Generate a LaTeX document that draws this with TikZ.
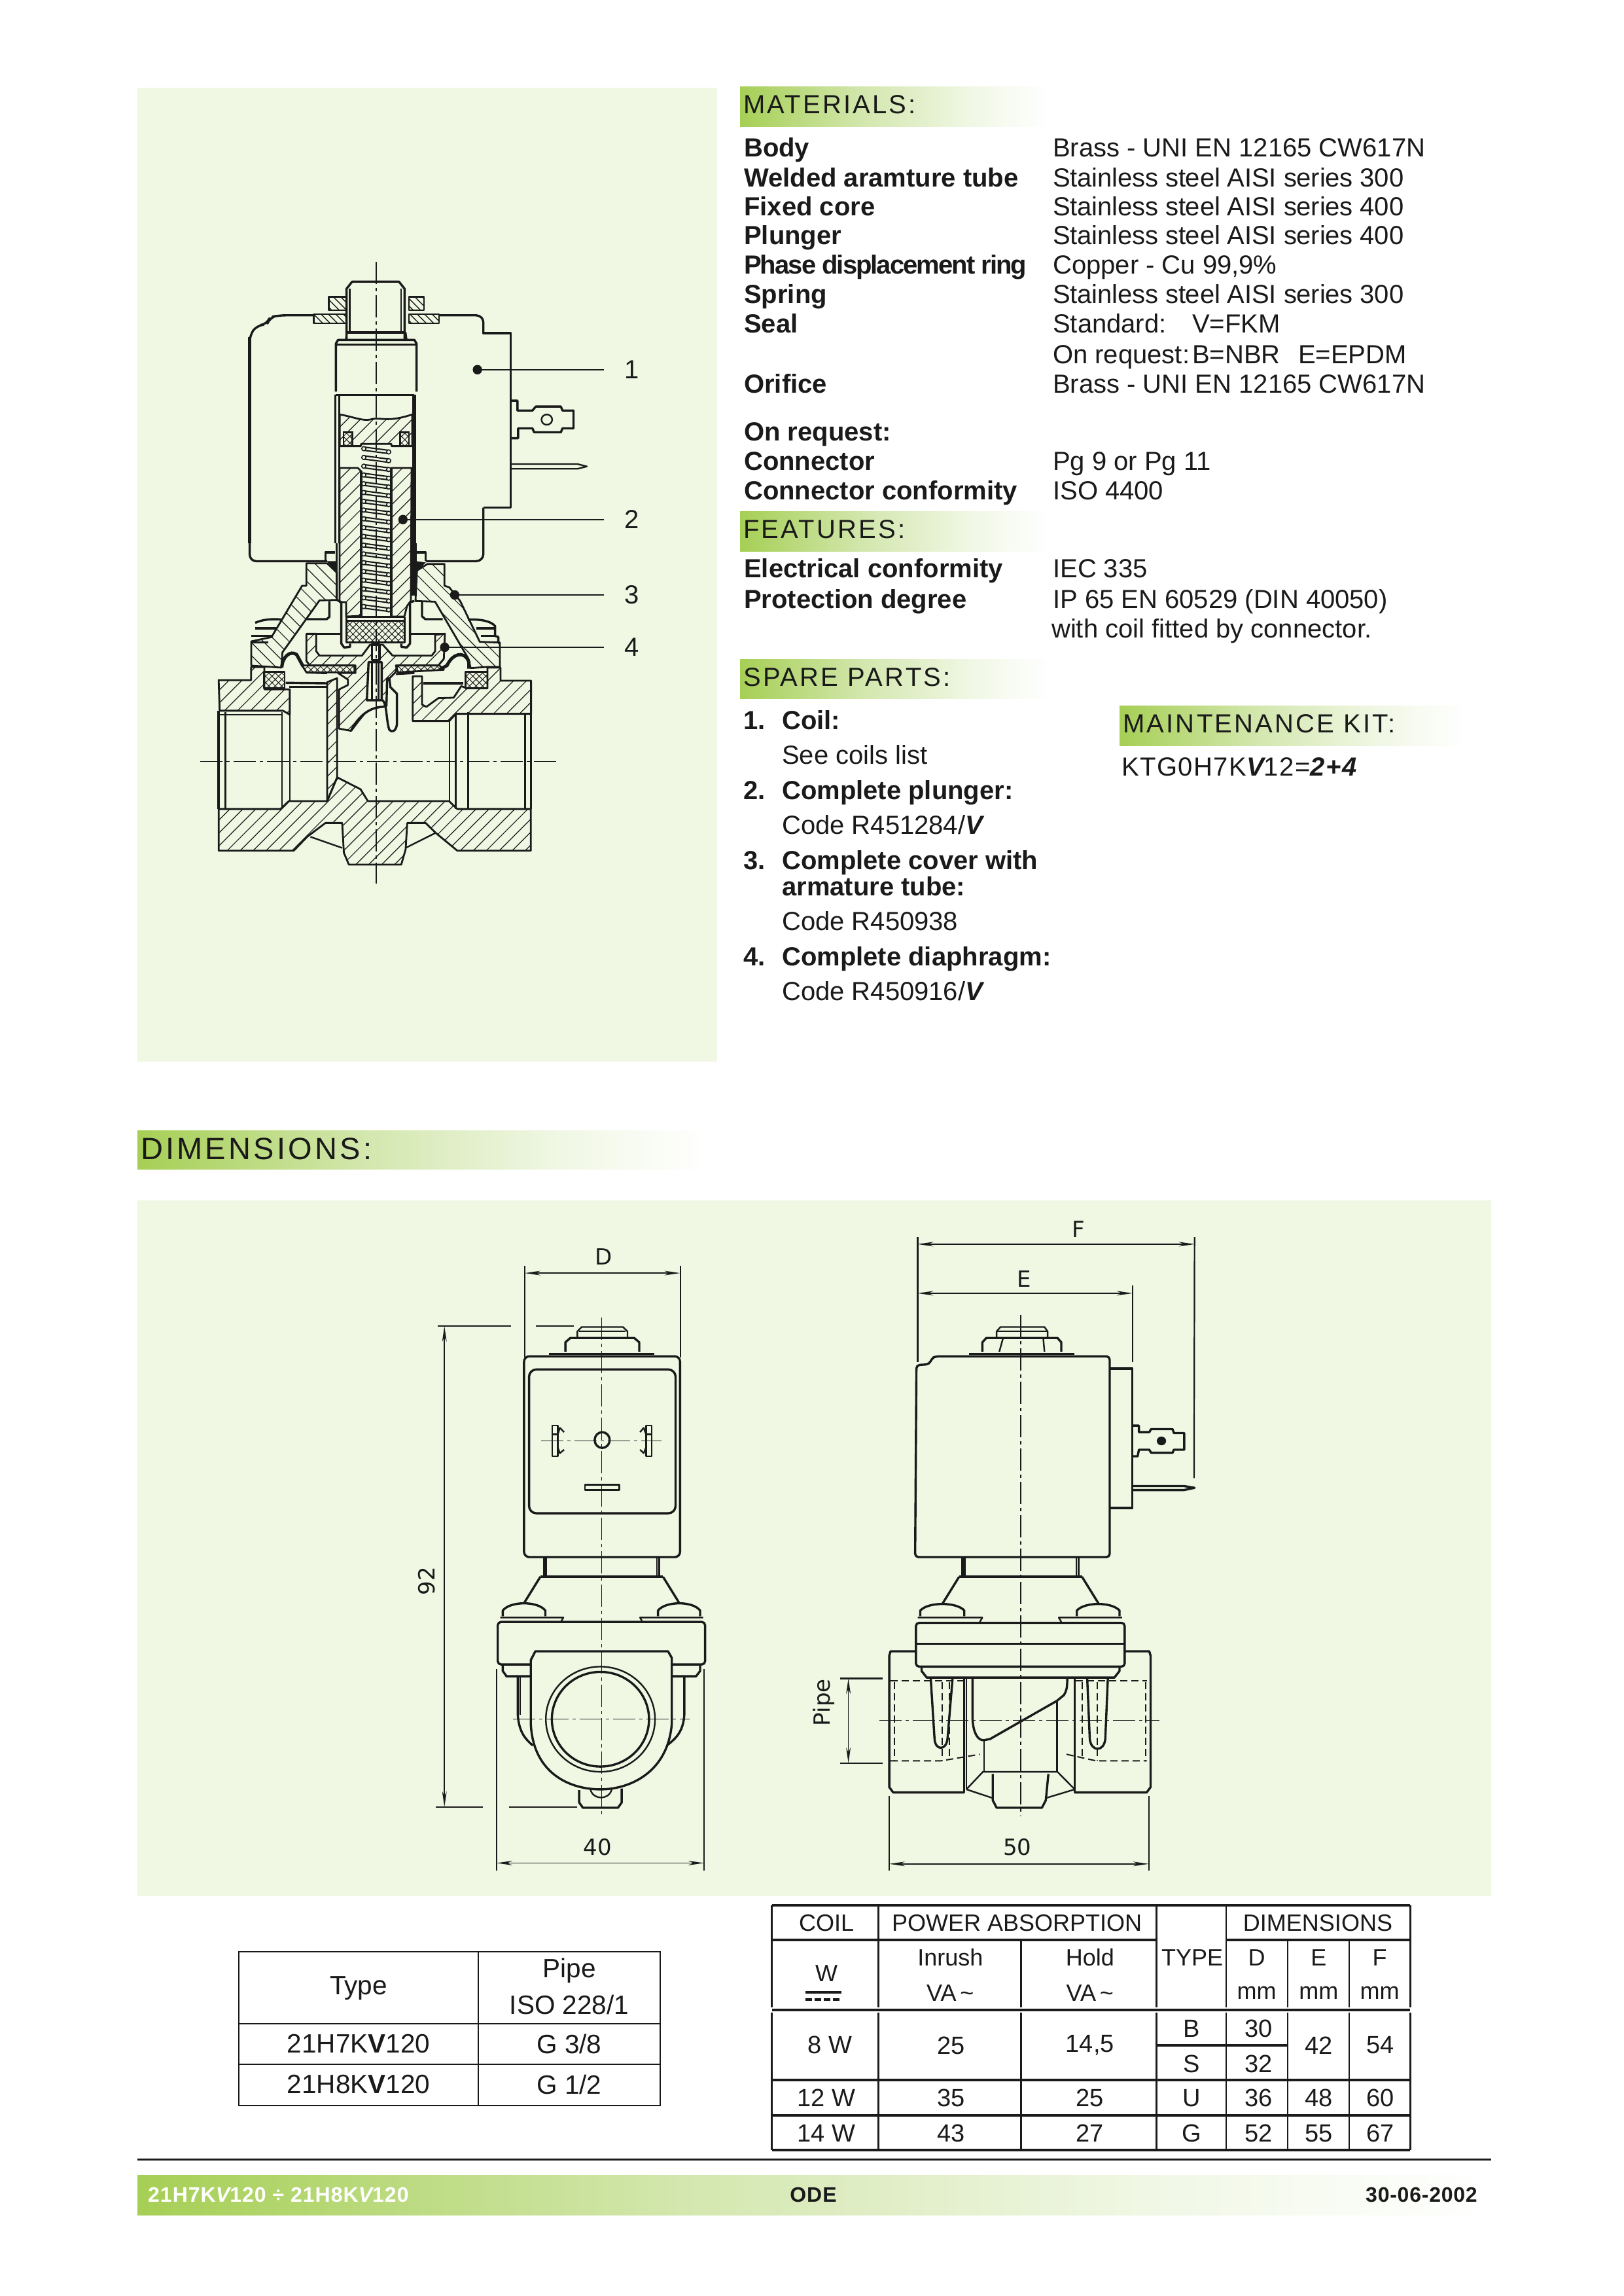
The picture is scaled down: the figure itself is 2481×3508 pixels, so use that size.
\documentclass[tikz,border=0pt]{standalone}
\usepackage{fontspec}
\setmainfont{Liberation Sans}
\newfontfamily\hdrfont[LetterSpace=8]{Liberation Sans}
\newfontfamily\dimhdrfont[LetterSpace=9]{Liberation Sans}
\newfontfamily\kitfont[LetterSpace=3.6]{Liberation Sans}
\newfontfamily\footfont[LetterSpace=3.2]{Liberation Sans}
\newfontfamily\datefont[LetterSpace=2.4]{Liberation Sans}
\newfontfamily\tightfont[LetterSpace=-4.9]{Liberation Sans}
\newfontfamily\steelfont[LetterSpace=-0.4]{Liberation Sans}
\newfontfamily\dimfont{DejaVu Sans}
\usetikzlibrary{patterns.meta,arrows.meta,calc}
\definecolor{panel}{HTML}{F0F8E4}
\definecolor{ink}{HTML}{1A1A1A}
\definecolor{gA}{HTML}{A6CF55}
\definecolor{gB}{HTML}{D3E7AE}
\definecolor{gC}{HTML}{F0F7E4}
\pgfdeclarehorizontalshading{barshade}{100bp}{color(0bp)=(gA);color(25bp)=(gA);color(45bp)=(gB);color(62bp)=(gC);color(75bp)=(white);color(100bp)=(white)}
\tikzset{
 x=1pt,y=-1pt,
 hdrbar/.style={shading=barshade,draw=none},
 hdrtxt/.style={anchor=base west,inner sep=0pt,font=\hdrfont\fontsize{40}{40}\selectfont,text=ink},
 lab/.style={anchor=base west,inner sep=0pt,font=\bfseries\fontsize{40}{45}\selectfont,text=ink},
 val/.style={anchor=base west,inner sep=0pt,font=\fontsize{40}{45}\selectfont,text=ink},
 steel/.style={anchor=base west,inner sep=0pt,font=\steelfont\fontsize{40}{45}\selectfont,text=ink},
 cell/.style={inner sep=0pt,font=\fontsize{38}{45}\selectfont,text=ink},
 bigcell/.style={inner sep=0pt,font=\fontsize{40.5}{45}\selectfont,text=ink},
 hcell/.style={inner sep=0pt,font=\fontsize{36}{45}\selectfont,text=ink},
 foot/.style={anchor=base west,inner sep=0pt,font=\footfont\bfseries\fontsize{32}{32}\selectfont,text=ink},
 rule/.style={draw=ink,line width=2.6pt},
 thickrule/.style={draw=ink,line width=4pt},
 ln/.style={draw=ink,line width=2.4pt,line join=round},
 thinln/.style={draw=ink,line width=1.5pt},
 thick2/.style={draw=ink,line width=3.4pt,line join=round},
 cline/.style={draw=ink,line width=1.3pt,dash pattern=on 34pt off 6pt on 5pt off 6pt},
 dashln/.style={draw=ink,line width=2pt,dash pattern=on 11pt off 6pt},
 hatchA/.style={draw=ink,line width=2.8pt,line join=round,pattern={Lines[angle=45,distance=14pt,line width=1.2pt]},pattern color=ink},
 hatchB/.style={draw=ink,line width=2.8pt,line join=round,pattern={Lines[angle=-45,distance=14pt,line width=1.2pt]},pattern color=ink},
 hatchC/.style={draw=ink,line width=2.8pt,line join=round,pattern={Lines[angle=-45,distance=8pt,line width=1.4pt]},pattern color=ink},
 mesh/.style={draw=ink,line width=2.8pt,line join=round,pattern={Hatch[angle=45,distance=7pt,line width=1pt]},pattern color=ink},
 dimln/.style={draw=ink,line width=1.6pt,{Stealth[length=24pt,width=7pt]}-{Stealth[length=24pt,width=7pt]}},
 extln/.style={draw=ink,line width=2.2pt},
 dimtxt/.style={inner sep=0pt,font=\dimfont\fontsize{34}{34}\selectfont,text=ink},
 numtxt/.style={inner sep=0pt,inner xsep=32pt,font=\fontsize{40}{40}\selectfont,text=ink},
}
\begin{document}
\begin{tikzpicture}
\useasboundingbox (0,0) rectangle (2481,3508);
\fill[white] (0,0) rectangle (2481,3508);
% panels
\fill[panel] (210,134) rectangle (1096,1622);
\fill[panel] (210,1834) rectangle (2279,2897);
% header bars
\shade[hdrbar] (1131,133) rectangle (1604,194);
\shade[hdrbar] (1131,781) rectangle (1604,842);
\shade[hdrbar] (1131,1007) rectangle (1604,1067);
\shade[hdrbar] (1711,1078) rectangle (2240,1139);
\shade[hdrbar] (210,1727) rectangle (1080,1786);
\node[hdrtxt] (hmat) at (1136,174) {MATERIALS:};
\node[hdrtxt] (hfea) at (1136,822) {FEATURES:};
\node[hdrtxt] (hspa) at (1136,1048) {SPARE PARTS:};
\node[hdrtxt] (hkit) at (1716,1119) {MAINTENANCE KIT:};
\node[hdrtxt,font=\dimhdrfont\fontsize{47}{47}\selectfont] (hdim) at (215,1771) {DIMENSIONS:};
% materials
\node[lab] (a1) at (1137,240) {Body};
\node[lab] (a2) at (1137,285) {Welded aramture tube};
\node[lab] (a3) at (1137,329) {Fixed core};
\node[lab] (a4) at (1137,373) {Plunger};
\node[lab,font=\tightfont\bfseries\fontsize{40}{45}\selectfont] (a5) at (1137,418) {Phase displacement ring};
\node[lab] (a6) at (1137,463) {Spring};
\node[lab] (a7) at (1137,508) {Seal};
\node[lab] (a8) at (1137,600) {Orifice};
\node[lab] (a9) at (1137,673) {On request:};
\node[lab] (a10) at (1137,718) {Connector};
\node[lab] (a11) at (1137,763) {Connector conformity};
\node[val] (b1) at (1609,240) {Brass - UNI EN 12165 CW617N};
\node[steel] (b2) at (1609,285) {Stainless steel AISI series 300};
\node[steel] (b3) at (1609,329) {Stainless steel AISI series 400};
\node[steel] (b4) at (1609,373) {Stainless steel AISI series 400};
\node[val] (b5) at (1609,418) {Copper - Cu 99,9\%};
\node[steel] (b6) at (1609,463) {Stainless steel AISI series 300};
\node[val] (b7) at (1609,508) {Standard:};
\node[val] (b7b) at (1822,508) {V=FKM};
\node[val] (b8) at (1609,555) {On request:};
\node[val] (b8b) at (1822,555) {B=NBR};
\node[val] (b8c) at (1984,555) {E=EPDM};
\node[val] (b9) at (1609,600) {Brass - UNI EN 12165 CW617N};
\node[val] (b10) at (1609,718) {Pg 9 or Pg 11};
\node[val] (b11) at (1609,763) {ISO 4400};
% features
\node[lab] (c1) at (1137,882) {Electrical conformity};
\node[lab] (c2) at (1137,929) {Protection degree};
\node[val] (d1) at (1609,882) {IEC 335};
\node[val] (d2) at (1609,929) {IP 65 EN 60529 (DIN 40050)};
\node[val] (d3) at (1607,974) {with coil fitted by connector.};
% spare parts
\node[lab] (s1) at (1136,1114) {1.};
\node[lab] (s1t) at (1195,1114) {Coil:};
\node[val] (s1c) at (1195,1167) {See coils list};
\node[lab] (s2) at (1136,1221) {2.};
\node[lab] (s2t) at (1195,1221) {Complete plunger:};
\node[val] (s2c) at (1195,1274) {Code R451284/{\bfseries\itshape V}};
\node[lab] (s3) at (1136,1328) {3.};
\node[lab] (s3t) at (1195,1328) {Complete cover with};
\node[lab] (s3u) at (1195,1368) {armature tube:};
\node[val] (s3c) at (1195,1421) {Code R450938};
\node[lab] (s4) at (1136,1475) {4.};
\node[lab] (s4t) at (1195,1475) {Complete diaphragm:};
\node[val] (s4c) at (1195,1528) {Code R450916/{\bfseries\itshape V}};
\node[val,font=\kitfont\fontsize{40}{45}\selectfont] (kit) at (1714,1185) {KTG0H7K{\bfseries\itshape V}12={\bfseries\itshape 2+4}};
% ===== section view: outer parts
\begin{scope}[shift={(250,400)},xscale=0.5102,yscale=0.6059]
 \draw[hatchC] (495,88) rectangle (548,122);
 \draw[hatchC] (735,88) rectangle (780,122);
 \draw[hatchC] (450,132) rectangle (548,155);
 \draw[hatchC] (735,132) rectangle (825,155);
 \draw[thick2] (548,195) -- (548,68) -- (565,50) -- (705,50) -- (722,68) -- (722,195);
 \draw[ln] (558,68) -- (558,180);
 \draw[ln] (712,68) -- (712,180);
 \draw[ln] (548,180) -- (722,180);
 \draw[thick2,rounded corners=10pt] (450,135) -- (345,135) -- (318,140) -- (310,158) -- (280,160) -- (258,185) -- (258,755) -- (490,755);
 \draw[thick2,rounded corners=11pt] (825,135) -- (958,135) -- (958,180);
 \draw[thick2] (958,170) -- (958,180) -- (1040,180) -- (1040,620) -- (958,620);
 \draw[thick2,rounded corners=11pt] (958,620) -- (958,755) -- (785,755);
 \draw[draw=ink,line width=4.5pt] (258,190) -- (258,710);
 \draw[hatchA] (165,1055) -- (262,1055) -- (262,1022) -- (302,1022) -- (302,1078) -- (378,1078) -- (378,1142) -- (358,1132) -- (168,1132) -- cycle;
 \draw[hatchA] (165,1380) -- (350,1380) -- (375,1360) -- (490,1360) -- (520,1300) -- (590,1330) -- (612,1360) -- (855,1360) -- (880,1380) -- (1100,1380) -- (1100,1485) -- (880,1485) -- (815,1440) -- (785,1415) -- (730,1415) -- (725,1482) -- (712,1520) -- (555,1520) -- (540,1490) -- (535,1415) -- (485,1415) -- (430,1450) -- (390,1485) -- (165,1485) -- cycle;
 \draw[ln] (440,1450) -- (535,1478);
 \draw[ln] (815,1440) -- (725,1478);
 \draw[thick2] (165,1132) -- (165,1380);
 \draw[thick2] (1100,1135) -- (1100,1380);
 \draw[ln] (185,1135) -- (185,1378);
 \draw[ln] (355,1135) -- (355,1380);
 \draw[ln] (378,1142) -- (378,1360);
 \draw[ln] (168,1142) -- (355,1142);
 \draw[ln] (875,1140) -- (875,1380);
 \draw[ln] (857,1155) -- (857,1362);
 \draw[ln] (912,1135) -- (912,1380);
 \draw[ln] (1083,1140) -- (1083,1380);
 \draw[hatchA] (490,1060) -- (520,1050) -- (520,1300) -- (490,1360) -- cycle;
 \draw[thick2] (1040,350) -- (1060,350) -- (1060,375) -- (1105,375) -- (1115,365) -- (1190,365) -- (1195,375) -- (1228,375) -- (1228,420) -- (1195,420) -- (1190,430) -- (1110,430) -- (1105,420) -- (1062,420) -- (1062,445) -- (1040,445);
 \draw[ln] (1148,398) circle[x radius=16,y radius=13];
 \draw[ln] (1040,510) -- (1240,510) -- (1268,516) -- (1240,522) -- (1040,522);
\end{scope}
% ===== armature tube and fixed core
\begin{scope}[shift={(470,470)},xscale=0.3333,yscale=0.3333]
 \draw[ln] (180,112) -- (450,112);
 \draw[ln] (180,112) -- (175,148);
 \draw[ln] (450,112) -- (455,148);
 \draw[thick2] (130,385) -- (130,165) -- (140,148) -- (490,148) -- (500,165) -- (500,385);
 \draw[thick2] (130,170) -- (500,170);
 \draw[thick2] (130,400) -- (490,400);
 \draw[thick2] (128,400) -- (128,1080);
 \draw[ln] (146,400) -- (146,1080);
 \fill[ink] (480,400) rectangle (498,1080);
 \draw[hatchA] (148,490) .. controls (210,500) and (260,525) .. (300,510) .. controls (350,505) and (370,525) .. (480,490) -- (480,635) -- (385,635) -- (385,625) -- (245,625) -- (245,635) -- (148,635) -- cycle;
 \draw[draw=ink,line width=2.8pt,fill=panel] (165,572) rectangle (205,635);
 \draw[draw=ink,line width=2.8pt,fill=panel] (425,572) rectangle (465,635);
 \draw[mesh] (165,572) rectangle (205,635);
 \draw[mesh] (425,572) rectangle (465,635);
\end{scope}
% plunger, one piece on each side of the spring
\draw[hatchA] (519,715) -- (547,715) -- (552,720) -- (552,941) -- (529,942) -- (529,920) -- (519,920) -- cycle;
\draw[hatchA] (598,715) -- (629,715) -- (628,918) -- (622,926) -- (618,942) -- (598,942) -- cycle;
\draw[draw=ink,line width=3.4pt] (552,720) -- (552,941);
\draw[draw=ink,line width=3.4pt] (598,715) -- (598,941);
% spring
\foreach \yy in {683,696.4,...,933}{
 \draw[draw=ink,line width=2.1pt] (556,\yy) -- (594,\yy+5);
 \draw[draw=ink,line width=2.1pt] (556,\yy+5) -- (594,\yy+10);
 \draw[draw=ink,line width=1.6pt,fill=panel] (556,\yy+2.5) circle[radius=3.2];
 \draw[draw=ink,line width=1.6pt,fill=panel] (594,\yy+7.5) circle[radius=3.2];
}
% ===== cover, diaphragm, poppet, right body block
\begin{scope}[shift={(400,820)},xscale=0.3333,yscale=0.3333]
 \draw[draw=ink,line width=3pt] (345,30) -- (345,290);
 \fill[ink] (688,30) rectangle (710,270);
 \draw[thick2] (292,110) -- (292,72) -- (335,72);
 \draw[thick2] (712,72) -- (752,72) -- (752,110);
 \fill[ink] (298,112) -- (345,112) -- (345,165) -- cycle;
 \fill[ink] (708,112) -- (752,118) -- (708,165) -- cycle;
 \draw[hatchB] (205,122) -- (300,122) -- (345,165) -- (345,290) -- (265,292) -- (95,530) -- (90,600) -- (-48,591) -- (-48,480) -- (45,460) -- (185,225) -- (205,225) -- cycle;
 \draw[hatchB] (712,155) -- (760,125) -- (838,125) -- (838,225) -- (860,232) -- (910,295) -- (1000,482) -- (1092,485) -- (1092,597) -- (1035,597) -- (958,602) -- (948,560) -- (795,298) -- (705,295) -- cycle;
 \draw[thick2] (-30,395) .. controls (0,380) and (50,375) .. (90,380);
 \draw[thick2] (-30,420) -- (65,420);
 \draw[thick2] (-48,455) -- (50,455);
 \draw[thick2] (-48,485) -- (30,485);
 \draw[thick2] (945,380) .. controls (1000,378) and (1050,385) .. (1070,410) -- (1070,455) -- (1085,460) -- (1085,485);
 \draw[thick2] (985,420) -- (1070,420);
 \draw[thick2] (1005,455) -- (1075,455);
 \draw[thick2] (310,295) -- (310,368) -- (298,378) -- (205,378);
 \draw[thick2] (735,300) -- (735,365) -- (750,378) -- (830,378);
 \draw[thick2] (345,290) -- (365,300) -- (365,490) -- (378,508) -- (405,505) -- (405,490);
 \draw[thick2] (700,295) -- (680,300) -- (680,490) -- (665,508) -- (640,505) -- (640,490);
 \draw[thick2] (388,368) -- (655,368);
 \draw[thick2] (388,368) -- (388,470);
 \draw[thick2] (655,368) -- (655,470);
 \draw[thick2] (205,445) -- (365,445);
 \draw[thick2] (680,445) -- (840,445);
 \draw[hatchA] (205,445) -- (250,445) -- (250,525) -- (265,545) -- (460,545) -- (497,495) -- (555,495) -- (600,545) -- (780,545) -- (795,525) -- (795,450) -- (840,445) -- (835,560) -- (810,590) -- (620,590) -- (615,620) -- (585,650) -- (580,750) -- (555,780) -- (520,785) -- (480,800) -- (440,850) -- (410,890) -- (355,880) -- (355,700) -- (395,680) -- (395,655) -- (350,625) -- (430,625) -- (430,590) -- (220,590) -- (205,570) -- cycle;
 \draw[mesh] (388,385) rectangle (655,485);
 \draw[thick2,fill=panel] (505,495) -- (540,495) -- (540,565) -- (505,565) -- cycle;
 \draw[thick2,fill=panel] (490,575) -- (550,575) -- (550,750) -- (482,750) -- cycle;
 \draw[ln] (505,575) -- (505,750);
 \draw[ln] (535,575) -- (535,750);
 \draw[thick2,fill=panel] (480,750) -- (555,750) .. controls (575,770) and (570,840) .. (585,885) .. controls (595,898) and (615,895) .. (620,860) -- (620,720) -- (590,690) -- (585,650) -- (575,650) -- (572,775) -- (555,780) .. controls (530,780) and (460,790) .. (410,888);
 \draw[mesh] (185,590) -- (425,590) -- (425,622) -- (205,622) -- cycle;
 \draw[mesh] (615,590) -- (815,590) -- (835,610) -- (625,622) -- cycle;
 \draw[draw=ink,line width=5pt] (92,600) .. controls (95,550) and (130,520) .. (160,540) -- (190,595);
 \draw[draw=ink,line width=5pt] (815,610) -- (850,590) .. controls (875,535) and (930,520) .. (950,575) -- (950,605);
 \draw[draw=ink,line width=3pt] (615,630) -- (700,625);
 \draw[thick2] (205,622) -- (300,625);
 \draw[mesh] (10,620) rectangle (105,695);
 \draw[mesh] (935,620) rectangle (1035,695);
 \draw[thick2] (110,670) -- (300,672);
 \draw[thick2] (125,688) -- (300,688);
 \draw[thick2] (740,672) -- (925,672);
 \draw[hatchA] (692,640) -- (692,845) -- (860,845) -- (890,812) -- (1235,812) -- (1235,660) -- (1095,660) -- (1095,600) -- (1035,600) -- (1035,695) -- (940,695) -- (915,685) -- (880,738) -- (810,740) -- (755,780) -- (735,770) -- (735,640) -- cycle;
 \draw[thick2] (1235,812) -- (1235,840);
\end{scope}
% ===== section view: centre lines, leaders
\begin{scope}[shift={(250,400)},xscale=0.5102,yscale=0.6059]
 \draw[cline] (637,0) -- (637,1568);
 \draw[cline] (110,1260) -- (1180,1260);
 \coordinate (p1) at (940,272);
 \coordinate (p2) at (717,650);
 \coordinate (p3) at (872,840);
 \coordinate (p4) at (842,972);
 \node[numtxt] (n1) at (1403,272) {1};
 \node[numtxt] (n2) at (1403,650) {2};
 \node[numtxt] (n3) at (1403,840) {3};
 \node[numtxt] (n4) at (1403,972) {4};
 \fill[ink] (p1) circle[x radius=14,y radius=12];
 \fill[ink] (p2) circle[x radius=14,y radius=12];
 \fill[ink] (p3) circle[x radius=14,y radius=12];
 \fill[ink] (p4) circle[x radius=14,y radius=12];
 \draw[thinln,line width=2pt] (p1) -- (p1 -| n1.west);
 \draw[thinln,line width=2pt] (p2) -- (p2 -| n2.west);
 \draw[thinln,line width=2pt] (p3) -- (p3 -| n3.west);
 \draw[thinln,line width=2pt] (p4) -- (p4 -| n4.west);
\end{scope}
% ===== front view
\begin{scope}[shift={(600,1850)},xscale=0.3827,yscale=0.6696]
 \coordinate (fd1) at (528,142); \coordinate (fd2) at (1148,142);
 \draw[extln] (528,125) -- (528,335);
 \draw[extln] (1149,125) -- (1149,335);
 \draw[dimln] (fd1) -- (fd2);
 \node[dimtxt] (tD) at (842,105) {D};
 \coordinate (f92a) at (207,263); \coordinate (f92b) at (207,1360);
 \draw[extln] (180,263) -- (472,263);
 \draw[extln] (572,263) -- (725,263);
 \draw[extln] (172,1360) -- (360,1360);
 \draw[extln] (465,1360) -- (738,1360);
 \draw[dimln] (f92a) -- (f92b);
 \node[dimtxt,rotate=90] (t92) at (135,845) {92};
 \coordinate (f40a) at (416,1488); \coordinate (f40b) at (1243,1488);
 \draw[extln] (416,1045) -- (416,1505);
 \draw[extln] (1243,1045) -- (1243,1505);
 \draw[dimln] (f40a) -- (f40b);
 \node[dimtxt] (t40) at (818,1452) {40};
 \draw[ln] (738,290) -- (738,275) -- (755,265) -- (920,265) -- (938,275) -- (938,290);
 \draw[ln] (745,275) -- (930,275);
 \draw[thick2] (690,322) -- (690,300) -- (710,290) -- (965,290) -- (985,300) -- (985,322);
 \draw[thick2] (625,326) -- (1045,326);
 \draw[thick2,rounded corners=8pt] (525,332) rectangle (1148,790);
 \draw[thick2,rounded corners=11pt] (545,362) rectangle (1130,690);
 \draw[ln] (638,490) rectangle (660,560);
 \draw[ln] (638,510) -- (660,510);
 \draw[ln] (660,510) -- (668,495) -- (685,505);
 \draw[ln] (660,540) -- (668,553) -- (685,545);
 \draw[ln] (1012,490) rectangle (1035,560);
 \draw[ln] (1012,510) -- (1035,510);
 \draw[ln] (1012,510) -- (1003,495) -- (988,505);
 \draw[ln] (1012,540) -- (1003,553) -- (988,545);
 \draw[thick2] (837,523) ellipse[x radius=30,y radius=18];
 \draw[ln] (768,625) rectangle (905,637);
 \draw[thick2] (605,790) -- (605,833);
 \draw[ln] (613,790) -- (613,833);
 \draw[thick2] (1065,790) -- (1065,833);
 \draw[ln] (1056,790) -- (1056,833);
 \draw[thick2] (590,835) -- (1080,835);
 \draw[thick2] (590,835) -- (525,895);
 \draw[thick2] (1080,835) -- (1145,895);
 \draw[thick2] (440,925) -- (440,912) .. controls (470,890) and (580,890) .. (610,912) -- (610,925);
 \draw[thick2] (1060,925) -- (1060,912) .. controls (1090,890) and (1200,890) .. (1228,912) -- (1228,925);
 \draw[ln] (430,928) -- (682,928) -- (672,938);
 \draw[ln] (1240,928) -- (988,928) -- (998,938);
 \draw[thick2,rounded corners=5pt] (420,938) rectangle (1248,1035);
 \draw[thick2] (440,1035) -- (440,1050) -- (455,1062) -- (550,1062);
 \draw[thick2] (1228,1035) -- (1228,1050) -- (1212,1062) -- (1115,1062);
 \draw[thick2] (500,1062) -- (500,1150) .. controls (505,1190) and (530,1205) .. (560,1220);
 \draw[ln] (510,1062) -- (510,1150);
 \draw[thick2] (1165,1062) -- (1165,1150) .. controls (1160,1190) and (1130,1205) .. (1090,1222);
 \draw[thick2,fill=panel] (552,1035) -- (552,1025) -- (570,1005) -- (1100,1005) -- (1115,1020) -- (1115,1170) .. controls (1100,1280) and (950,1320) .. (830,1320) .. controls (700,1320) and (560,1280) .. (552,1170) -- cycle;
 \draw[ln] (830,1160) ellipse[x radius=218,y radius=120];
 \draw[thick2] (830,1160) ellipse[x radius=194,y radius=108];
 \draw[thick2] (745,1322) -- (745,1350) -- (760,1362) -- (900,1362) -- (915,1350) -- (915,1318);
 \draw[ln] (790,1320) .. controls (800,1345) and (865,1345) .. (875,1320);
 \draw[cline] (835,243) -- (835,1380);
 \draw[cline] (592,525) -- (1075,525);
 \draw[cline] (480,1160) -- (1185,1160);
\end{scope}
% ===== side view
\begin{scope}[shift={(1280,1850)},xscale=0.3954,yscale=0.6696]
 \coordinate (sf1) at (310,76); \coordinate (sf2) at (1380,76);
 \draw[extln] (310,60) -- (310,345);
 \draw[extln] (1380,60) -- (1378,610);
 \draw[dimln] (sf1) -- (sf2);
 \node[dimtxt] (tF) at (932,42) {F};
 \coordinate (se1) at (310,188); \coordinate (se2) at (1140,188);
 \draw[extln] (1140,170) -- (1140,345);
 \draw[dimln] (se1) -- (se2);
 \node[dimtxt] (tE) at (722,155) {E};
 \draw[ln] (615,290) -- (615,275) -- (630,265) -- (800,265) -- (812,275) -- (812,290);
 \draw[ln] (615,275) -- (812,275);
 \draw[thick2] (560,322) -- (560,300) -- (575,290) -- (850,290) -- (865,300) -- (865,322);
 \draw[ln] (640,290) -- (625,322);
 \draw[ln] (795,290) -- (800,322);
 \draw[thick2] (508,326) -- (915,326);
 \draw[thick2,rounded corners=5pt] (380,332) -- (1052,332) -- (1052,790) -- (300,790) -- (305,352) -- (355,350) -- (365,336) -- cycle;
 \draw[thick2] (1052,360) -- (1140,360) -- (1140,678) -- (1052,678);
 \draw[thick2] (1140,490) -- (1165,490) -- (1165,505) -- (1205,505) -- (1212,498) -- (1295,498) -- (1300,507) -- (1340,507) -- (1340,545) -- (1300,545) -- (1295,552) -- (1212,552) -- (1205,545) -- (1165,545) -- (1160,560) -- (1140,560);
 \fill[ink] (1252,525) ellipse[x radius=18,y radius=10];
 \draw[thick2] (1140,628) -- (1340,628) -- (1380,632) -- (1340,637) -- (1140,637);
 \draw[thick2] (483,790) -- (483,833);
 \draw[ln] (492,790) -- (492,833);
 \draw[thick2] (932,790) -- (932,833);
 \draw[ln] (923,790) -- (923,833);
 \draw[thick2] (470,835) -- (945,835);
 \draw[thick2] (470,835) -- (405,897);
 \draw[thick2] (945,835) -- (1010,897);
 \draw[thick2] (320,925) -- (320,912) .. controls (350,892) and (460,892) .. (490,912) -- (490,925);
 \draw[thick2] (925,925) -- (925,912) .. controls (955,892) and (1060,892) .. (1090,912) -- (1090,925);
 \draw[ln] (310,928) -- (560,928) -- (550,938);
 \draw[ln] (1100,928) -- (855,928) -- (865,938);
 \draw[thick2,rounded corners=5pt] (303,940) rectangle (1110,1040);
 \draw[thick2] (303,988) -- (1110,988);
 \draw[thick2] (325,1040) -- (325,1050) -- (345,1065) -- (1070,1065) -- (1090,1050) -- (1090,1040);
 \draw[thick2] (300,1005) -- (205,1005) -- (200,1015) -- (200,1315) -- (215,1327) -- (490,1327);
 \draw[thick2] (1110,1005) -- (1205,1005) -- (1210,1015) -- (1210,1315) -- (1195,1327) -- (915,1327);
 \draw[thick2] (490,1065) -- (490,1327);
 \draw[ln] (498,1065) -- (498,1320);
 \draw[thick2] (917,1065) -- (917,1327);
 \draw[ln] (498,1320) -- (562,1280) -- (850,1280) -- (917,1320);
 \draw[thick2] (600,1285) -- (600,1345) -- (615,1362) -- (790,1362) -- (805,1345) -- (815,1285);
 \draw[ln] (498,1320) -- (600,1340);
 \draw[ln] (805,1340) -- (917,1320);
 \draw[ln] (567,1208) -- (567,1280);
 \draw[ln] (848,1120) -- (848,1280);
 \draw[thick2] (522,1065) -- (522,1160) .. controls (525,1195) and (545,1208) .. (565,1208) -- (590,1205) -- (848,1118) -- (875,1105) .. controls (885,1095) and (888,1090) .. (888,1065);
 \draw[thick2] (360,1065) -- (375,1205) .. controls (378,1232) and (420,1232) .. (425,1205) -- (445,1065);
 \draw[thick2] (965,1065) -- (975,1205) .. controls (980,1235) and (1030,1235) .. (1035,1205) -- (1045,1065);
 \draw[dashln] (205,1072) -- (490,1072);
 \draw[dashln] (920,1072) -- (1195,1072);
 \draw[dashln] (205,1255) -- (400,1255) -- (550,1240);
 \draw[dashln] (885,1240) -- (1000,1255) -- (1195,1255);
 \draw[dashln] (220,1075) -- (220,1255);
 \draw[dashln] (1190,1075) -- (1190,1255);
 \draw[dashln] (405,1075) -- (405,1255);
 \draw[dashln] (432,1075) -- (432,1250);
 \draw[dashln] (1005,1075) -- (1005,1255);
 \draw[dashln] (945,1075) -- (945,1250);
 \draw[cline] (708,237) -- (708,1380);
 \draw[cline] (163,1163) -- (1245,1163);
 \coordinate (sp1) at (42,1067); \coordinate (sp2) at (42,1260);
 \draw[extln] (10,1067) -- (175,1067);
 \draw[extln] (10,1260) -- (175,1260);
 \draw[dimln] (sp1) -- (sp2);
 \node[dimtxt,rotate=90] (tPipe) at (-52,1122) {Pipe};
 \coordinate (s50a) at (200,1490); \coordinate (s50b) at (1203,1490);
 \draw[extln] (200,1335) -- (200,1505);
 \draw[extln] (1203,1335) -- (1203,1505);
 \draw[dimln] (s50a) -- (s50b);
 \node[dimtxt] (t50) at (695,1452) {50};
\end{scope}
% ===== left table
\draw[rule] (365,2982) rectangle (1009,3217);
\draw[rule] (731,2982) -- (731,3217);
\draw[rule] (365,3092) -- (1009,3092);
\draw[rule] (365,3154) -- (1009,3154);
\node[bigcell] (lt1) at (548,3038) {Type};
\node[bigcell] (lt2) at (870,3011) {Pipe};
\node[bigcell] (lt3) at (870,3063) {ISO 228/1};
\node[bigcell] (lt4) at (548,3123) {21H7K{\bfseries V}120};
\node[bigcell] (lt5) at (870,3123) {G 3/8};
\node[bigcell] (lt6) at (548,3185) {21H8K{\bfseries V}120};
\node[bigcell] (lt7) at (870,3185) {G 1/2};
% ===== right table
\begin{scope}[shift={(1160,2900)},xscale=0.6569,yscale=0.3333]
 \draw[thickrule] (30,33) -- (1515,33);
 \draw[thickrule] (30,193) -- (925,193);
 \draw[thickrule] (1087,193) -- (1515,193);
 \draw[thickrule] (30,512) -- (1515,512);
 \draw[thickrule] (30,835) -- (1515,835);
 \draw[thickrule] (30,997) -- (1515,997);
 \draw[thickrule] (30,1155) -- (1515,1155);
 \draw[thickrule] (925,675) -- (1230,675);
 \foreach \xx in {30,278,925,1087,1515}{\draw[rule] (\xx,33) -- (\xx,500); \draw[rule] (\xx,525) -- (\xx,1155);}
 \draw[rule] (610,193) -- (610,500);
 \draw[rule] (610,525) -- (610,1155);
 \draw[rule] (1230,193) -- (1230,500);
 \draw[rule] (1230,525) -- (1230,1155);
 \draw[rule] (1373,193) -- (1373,500);
 \draw[rule] (1373,525) -- (1373,1155);
 \node[hcell] (r1) at (157,113) {COIL};
 \node[hcell] (r2) at (600,113) {POWER ABSORPTION};
 \node[hcell] (r3) at (1300,113) {DIMENSIONS};
 \node[hcell] (r4) at (157,345) {W};
 \node[hcell] (r5) at (445,272) {Inrush};
 \node[hcell] (r6) at (445,435) {VA\,\textasciitilde};
 \node[hcell] (r7) at (770,272) {Hold};
 \node[hcell] (r8) at (770,435) {VA\,\textasciitilde};
 \node[hcell] (r9) at (1008,272) {TYPE};
 \node[hcell] (r10) at (1158,272) {D};
 \node[hcell] (r11) at (1302,272) {E};
 \node[hcell] (r12) at (1444,272) {F};
 \node[hcell] (r13) at (1158,435) {mm};
 \node[hcell] (r14) at (1302,435) {mm};
 \node[hcell] (r15) at (1444,435) {mm};
 \draw[thickrule] (108,432) -- (192,432);
 \draw[draw=ink,line width=4pt,dash pattern=on 10pt off 4pt] (108,465) -- (192,465);
 \node[cell] (v1) at (165,672) {8 W};
 \node[cell] (v2) at (447,675) {25};
 \node[cell] (v3) at (770,675) {14,5};
 \node[cell] (v4) at (1006,598) {B};
 \node[cell] (v5) at (1162,598) {30};
 \node[cell] (v6) at (1006,760) {S};
 \node[cell] (v7) at (1162,760) {32};
 \node[cell] (v8) at (1303,675) {42};
 \node[cell] (v9) at (1446,675) {54};
 \node[cell] (v10) at (157,917) {12 W};
 \node[cell] (v11) at (447,917) {35};
 \node[cell] (v12) at (770,917) {25};
 \node[cell] (v13) at (1006,917) {U};
 \node[cell] (v14) at (1162,917) {36};
 \node[cell] (v15) at (1303,917) {48};
 \node[cell] (v16) at (1446,917) {60};
 \node[cell] (v17) at (157,1078) {14 W};
 \node[cell] (v18) at (447,1078) {43};
 \node[cell] (v19) at (770,1078) {27};
 \node[cell] (v20) at (1006,1078) {G};
 \node[cell] (v21) at (1162,1078) {52};
 \node[cell] (v22) at (1303,1078) {55};
 \node[cell] (v23) at (1446,1078) {67};
\end{scope}
% ===== footer
\draw[draw=ink,line width=3pt] (210,3299) -- (2279,3299);
\shade[hdrbar] (210,3323) rectangle (2279,3384);
\node[foot,text=white] (f1) at (226,3364) {21H7K{\itshape V}120 ÷ 21H8K{\itshape V}120};
\node[foot,anchor=base] (f2) at (1243,3364) {ODE};
\node[foot,anchor=base east,font=\datefont\bfseries\fontsize{32}{32}\selectfont] (f3) at (2258,3364) {30-06-2002};
\end{tikzpicture}
\end{document}
